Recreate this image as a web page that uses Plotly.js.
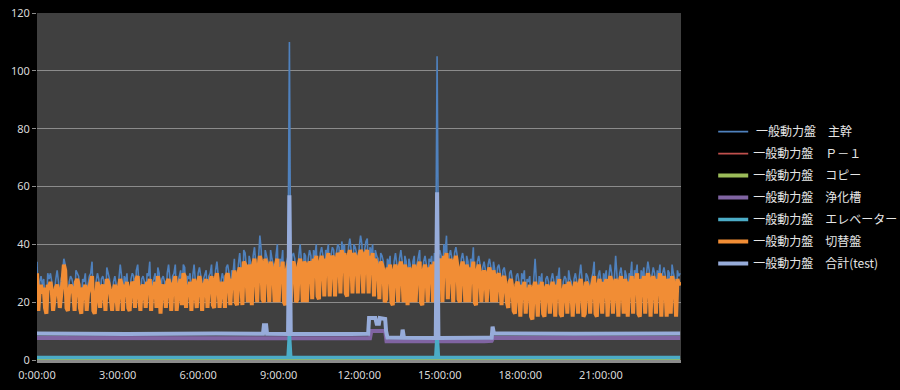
<!DOCTYPE html>
<html>
<head>
<meta charset="utf-8">
<script src="https://cdn.plot.ly/plotly-3.0.1.min.js"></script>
<style>html,body{margin:0;padding:0;background:#000;}#chart{width:900px;height:390px;}</style>
</head>
<body>
<div id="chart"></div>
<script>
// Sample step of the dense series: 3 minutes (0:00 .. 23:57)
const STEP_MIN = 3;

// 一般動力盤 主幹 (kW) read per 3 minutes, one row per hour
const trunk = [
34,19,27,29,26,28,20,18,30,28,30,27,19,25,28,31,27,20,28,30,
35,33,20,19,27,29,28,26,19,31,30,29,20,18,28,27,30,19,26,29,
30,34,19,18,27,30,28,20,28,29,27,19,32,30,28,21,19,27,29,26,
19,28,33,29,19,29,27,30,20,19,28,30,29,20,31,33,27,19,28,29,
27,20,30,29,34,19,27,28,30,20,32,30,18,28,29,27,20,30,33,28,
19,29,30,33,19,27,29,31,21,33,32,20,29,28,30,19,29,33,27,20,
30,32,29,19,28,30,31,20,29,30,33,21,20,31,34,29,20,27,30,28,
20,32,33,30,21,31,30,35,22,21,33,37,31,21,38,37,32,22,36,34,
21,36,39,33,22,35,43,38,23,22,38,36,34,22,38,35,33,22,36,40,
22,35,33,38,22,21,34,36,110,22,36,37,35,22,23,36,40,34,22,37,
36,22,35,38,36,23,38,36,40,24,23,37,39,36,24,38,37,40,24,36,
39,38,24,37,40,39,25,41,38,40,25,24,39,42,38,25,40,39,37,25,
39,43,40,25,38,41,42,25,39,37,40,24,38,36,35,23,37,36,34,22,
23,35,33,36,22,21,34,37,33,22,35,38,34,22,36,34,21,35,33,22,
34,36,22,33,35,38,22,21,34,36,33,22,35,34,36,22,37,35,105,36,
38,36,22,40,37,43,23,36,38,35,22,37,39,36,23,22,35,37,34,22,
36,34,22,35,33,39,22,21,34,36,33,22,32,34,31,22,33,35,32,22,
34,31,22,32,33,30,21,31,32,29,22,20,30,31,28,19,18,29,30,27,
17,30,28,31,18,28,27,29,17,16,28,35,27,17,29,27,30,18,17,28,
29,27,18,28,30,27,17,29,28,32,18,17,27,29,28,18,31,28,27,17,
28,30,27,18,29,33,28,17,18,30,29,27,18,28,30,34,18,17,29,31,
27,18,30,28,31,17,29,33,30,18,28,36,29,17,30,32,28,18,31,29,
17,30,29,34,18,31,30,33,18,17,31,29,32,18,30,34,31,17,29,32,
30,18,31,29,33,17,30,32,29,17,31,30,18,33,30,28,17,31,29,30
];

// 一般動力盤 切替盤 (kW) read per 3 minutes, one row per hour
const switchboard = [
30,17,24,26,23,25,18,16,26,25,27,24,17,22,25,26,24,18,25,27,
33,31,18,17,24,26,25,23,17,27,28,26,18,16,25,24,26,17,23,26,
27,29,17,16,24,27,25,18,25,26,24,17,28,27,25,19,17,24,26,23,
17,25,28,26,17,26,24,27,18,17,25,27,26,18,28,29,24,17,25,26,
24,18,27,26,28,17,24,25,27,18,29,27,16,25,26,24,18,27,28,25,
17,26,27,29,17,24,26,28,19,30,29,18,26,25,27,17,26,28,24,18,
27,29,26,17,25,27,28,18,26,27,29,19,18,28,30,26,18,24,27,25,
18,29,30,27,19,28,27,31,20,19,30,32,28,19,34,33,29,20,33,31,
19,33,35,30,20,32,36,34,21,20,35,33,31,20,34,32,30,20,33,35,
20,32,30,34,20,19,31,33,35,20,33,34,32,20,21,33,35,31,20,34,
33,20,32,34,33,21,35,33,36,22,21,34,36,33,22,35,34,37,22,33,
36,35,22,34,37,36,23,38,35,37,23,22,36,38,35,23,37,36,34,23,
36,38,37,23,35,37,38,23,36,34,37,22,35,33,32,21,34,33,31,20,
21,32,30,33,20,19,31,33,30,20,32,34,31,20,33,31,19,32,30,20,
31,33,20,30,32,34,20,19,31,33,30,20,32,31,33,20,34,32,19,33,
35,33,20,36,34,37,21,33,35,32,20,34,36,33,21,20,32,34,31,20,
33,31,20,32,30,34,20,19,31,33,30,20,29,31,28,20,30,32,29,20,
31,28,20,29,30,27,19,28,29,26,20,18,27,28,25,17,16,26,27,24,
15,26,24,27,16,25,23,26,15,14,25,27,24,15,26,24,27,16,15,25,
26,24,16,25,27,24,15,26,25,28,16,15,24,26,25,16,27,25,24,15,
25,27,24,16,26,28,25,15,16,27,26,24,16,25,27,29,16,15,26,28,
24,16,27,25,28,15,26,29,27,16,25,28,26,15,27,29,25,16,28,26,
15,27,26,29,16,28,27,30,16,15,28,26,29,16,27,30,28,15,26,29,
27,16,28,26,30,15,27,29,26,15,28,27,16,29,27,25,15,28,26,27
];

// Flat series: change points (minutes) and values
const p1Minutes   = [0, 1437];
const p1Values    = [0, 0];
const copyMinutes = [0, 1437];
const copyValues  = [0, 0];

const septicMinutes = [0, 300, 600, 744, 747, 778, 781, 1000, 1016, 1019, 1200, 1437];
const septicValues  = [7.6, 7.4, 7.5, 7.5, 10, 10, 6.5, 6.5, 6.6, 7.6, 7.5, 7.6];

const elevMinutes = [0, 561, 564, 567, 891, 894, 897, 1437];
const elevValues  = [0.9, 0.9, 9, 0.9, 0.9, 9, 0.9, 0.9];

const totalMinutes = [0, 200, 400, 505, 507, 512, 514, 561, 564, 567, 700, 740, 742, 756, 759, 764, 766, 778, 780, 783, 815, 817, 820, 891, 894, 897, 1000, 1016, 1018, 1021, 1200, 1437];
const totalValues  = [9.2, 9.0, 9.2, 9.1, 12, 12, 9.1, 9.0, 57, 9.0, 9.0, 9.1, 14.5, 14.5, 12.5, 12.5, 14.5, 14.2, 10, 7.8, 7.7, 10.5, 7.7, 7.6, 58, 7.6, 7.7, 7.7, 11.5, 9.2, 9.1, 9.2];

const tickMinutes = [0, 180, 360, 540, 720, 900, 1080, 1260];
const tickLabels  = ["0:00:00", "3:00:00", "6:00:00", "9:00:00", "12:00:00", "15:00:00", "18:00:00", "21:00:00"];

const names = ["\u00a0一般動力盤　主幹", "一般動力盤　Ｐ－１", "一般動力盤　コピー", "一般動力盤　浄化槽", "一般動力盤　エレベーター", "一般動力盤　切替盤", "一般動力盤　合計(test)"];
const colors = ["#4F81BD", "#C0504D", "#9BBB59", "#8064A2", "#4BACC6", "#F18D35", "#97ACDA"];

const denseMinutes = trunk.map((_, i) => i * STEP_MIN);

function tr(i, x, y, w) {
  return {type: "scatter", mode: "lines", x: x, y: y, name: names[i], legendgroup: "g" + i,
          line: {color: colors[i], width: w}, hoverinfo: "skip"};
}

const data = [
  tr(0, denseMinutes, trunk, 1.6),
  tr(1, p1Minutes, p1Values, 1.6),
  tr(2, copyMinutes, copyValues, 4),
  tr(3, septicMinutes, septicValues, 4),
  tr(4, elevMinutes, elevValues, 3.5),
  tr(5, denseMinutes, switchboard, 4),
  tr(6, totalMinutes, totalValues, 4)
];

const layout = {
  width: 900, height: 390,
  paper_bgcolor: "#000000", plot_bgcolor: "#404040",
  margin: {l: 37, r: 219, t: 13, b: 30, pad: 0, autoexpand: false},
  showlegend: true,
  legend: {x: 1.05, xanchor: "left", y: 0.70, yanchor: "top", bgcolor: "rgba(0,0,0,0)",
           font: {family: "Noto Sans CJK JP", size: 12, color: "#e6e6e6"}, tracegroupgap: 3},
  xaxis: {range: [0, 1439], tickvals: tickMinutes, ticktext: tickLabels, showgrid: false, zeroline: false,
          showline: true, linecolor: "#8a8a8a", linewidth: 3, ticks: "outside", ticklen: 3, tickcolor: "rgba(0,0,0,0)",
          tickfont: {family: "Noto Sans", size: 11, color: "#d9d9d9"}, fixedrange: true},
  yaxis: {range: [0, 120], dtick: 20, tick0: 0, showgrid: true, gridcolor: "#8c8c8c", gridwidth: 1, zeroline: false,
          showline: false, ticks: "outside", ticklen: 4, tickcolor: "#8c8c8c",
          tickfont: {family: "Noto Sans", size: 11, color: "#d9d9d9"}, fixedrange: true}
};

Plotly.newPlot("chart", data, layout, {displayModeBar: false, staticPlot: true});
</script>
</body>
</html>
